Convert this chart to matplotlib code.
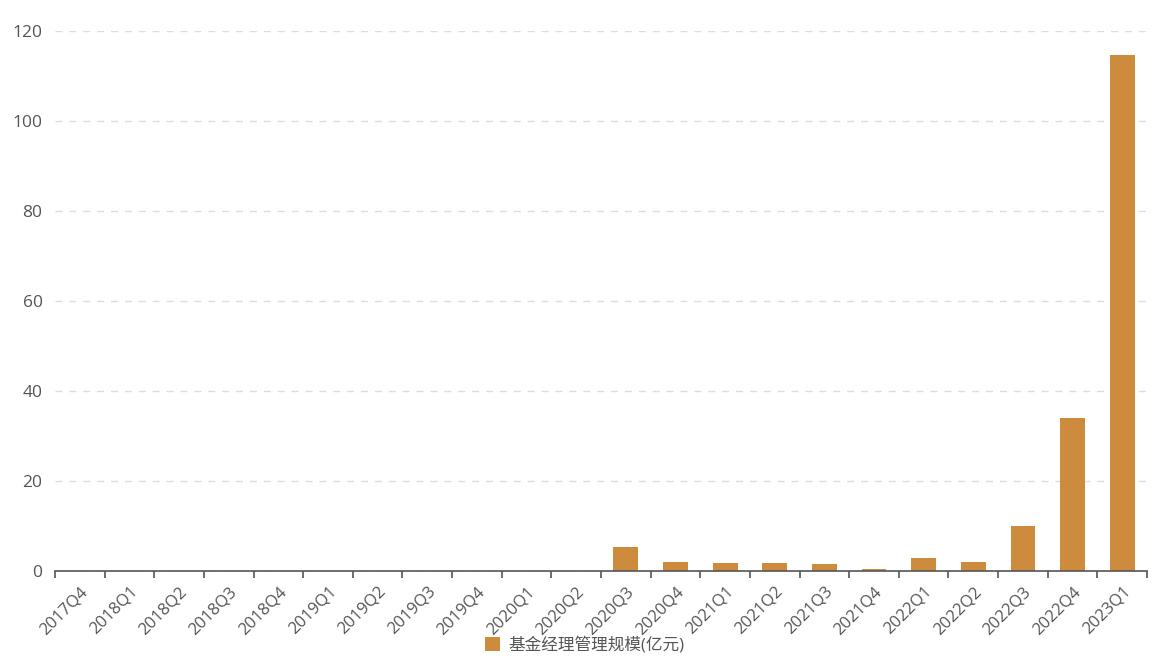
import matplotlib
matplotlib.use('Agg')
import matplotlib.pyplot as plt
from matplotlib.patches import Patch
import numpy as np

plt.rcParams['font.family'] = ['Open Sans', 'Noto Sans CJK SC', 'DejaVu Sans']

# Data: quarters and fund manager AUM (亿元)
quarters = ['2017Q4', '2018Q1', '2018Q2', '2018Q3', '2018Q4', '2019Q1', '2019Q2',
            '2019Q3', '2019Q4', '2020Q1', '2020Q2', '2020Q3', '2020Q4', '2021Q1',
            '2021Q2', '2021Q3', '2021Q4', '2022Q1', '2022Q2', '2022Q3', '2022Q4',
            '2023Q1']
scale = [0, 0, 0, 0, 0, 0, 0, 0, 0, 0, 0, 5.4, 2.1, 1.7, 1.7, 1.6, 0.5, 2.8,
         1.9, 10.0, 34.1, 114.6]
series_name = '基金经理管理规模(亿元)'
bar_color = '#CD8B3E'

fig = plt.figure(figsize=(11.7, 6.6), dpi=100)
ax = fig.add_axes([55 / 1170, 89 / 660, 1092 / 1170, 540 / 660])

x = np.arange(len(quarters))
ax.bar(x, scale, width=0.5, color=bar_color, zorder=3)

ax.set_xlim(-0.5, len(quarters) - 0.5)
ax.set_ylim(0, 120)
ax.set_yticks(np.arange(0, 121, 20))
ax.yaxis.grid(True, linestyle=(0, (5, 5)), color='#DDDDDD', linewidth=1, zorder=0)

# category boundary ticks, labels at category centres
ax.set_xticks(np.arange(-0.5, len(quarters) + 0.5, 1))
ax.set_xticklabels([])
ax.set_xticks(x, minor=True)
ax.set_xticklabels(quarters, minor=True, rotation=45, ha='right',
                   rotation_mode='anchor', fontsize=12, color='#555555')
ax.tick_params(axis='x', which='minor', length=0, pad=9)
ax.tick_params(axis='x', which='major', length=5, color='#555555', width=1.2)
ax.tick_params(axis='y', length=0, labelsize=12.5, labelcolor='#555555', pad=9)

for s in ['top', 'right', 'left']:
    ax.spines[s].set_visible(False)
ax.spines['bottom'].set_color('#555555')
ax.spines['bottom'].set_linewidth(1.2)
ax.spines['bottom'].set_zorder(4)

handle = Patch(facecolor=bar_color, edgecolor='none')
fig.legend([handle], [series_name], loc='center', bbox_to_anchor=(585 / 1170, 1 - 645 / 660),
           frameon=False, fontsize=12, handlelength=0.9, handleheight=0.9,
           handletextpad=0.5, labelcolor='#555555')

fig.savefig('out.png', dpi=100)
